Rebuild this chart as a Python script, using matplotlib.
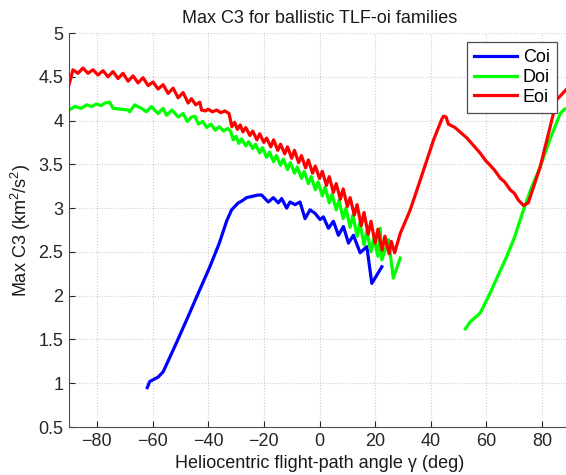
import matplotlib
matplotlib.use('Agg')
import matplotlib.pyplot as plt
import numpy as np

plt.rcParams['font.family'] = ['Liberation Sans', 'DejaVu Sans']
plt.rcParams['mathtext.default'] = 'regular'

# Coi family (blue)
coi_x = [-61.9, -61.0, -58.0, -56.2, -52.0, -47.8, -43.0, -39.4, -36.0, -33.4, -31.6, -29.2,
         -28.0, -26.2, -22.0, -20.8, -19.0, -18.4, -16.6, -14.8, -13.6, -11.8, -10.6, -8.8,
         -7.0, -5.2, -3.4, -1.6, 0.2, 1.4, 3.2, 5.0, 6.8, 8.6, 10.4, 12.2, 14.6, 17.0,
         18.8, 22.4]
coi_y = [0.95, 1.02, 1.07, 1.13, 1.42, 1.72, 2.07, 2.33, 2.60, 2.85, 2.98, 3.06,
         3.08, 3.12, 3.15, 3.15, 3.09, 3.07, 3.12, 3.06, 3.11, 3.00, 3.07, 3.04,
         3.07, 2.88, 2.98, 2.94, 2.87, 2.90, 2.77, 2.85, 2.69, 2.79, 2.60, 2.69, 2.49, 2.56,
         2.14, 2.33]

# Doi family (green), two branches
doi_x1 = [-90.0, -88.0, -85.5, -83.7, -81.9, -80.1, -78.5, -77.2, -75.4, -74.2, -68.8, -68.2,
          -66.4, -64.0, -62.2, -60.4, -58.0, -56.2, -55.0, -53.0, -50.8, -49.0, -47.5, -46.0,
          -44.8, -43.5, -42.0, -40.5, -39.0, -37.5, -36.0, -34.5, -33.0, -32.0, -31.0, -30.0,
          -29.0, -28.0, -26.5, -25.5, -24.0, -23.0, -21.5, -20.5, -19.0, -18.0, -16.5, -15.5,
          -14.0, -13.0, -11.5, -10.5, -9.0, -8.0, -6.5, -5.5, -4.0, -3.0, -1.5, -0.5,
          1.0, 2.0, 3.5, 4.5, 6.0, 7.0, 8.5, 9.5, 11.0, 12.0, 13.5, 14.5,
          16.0, 17.0, 18.5, 19.5, 21.0, 21.8, 22.4, 24.8, 26.5, 29.0]
doi_y1 = [4.12, 4.16, 4.14, 4.18, 4.16, 4.19, 4.17, 4.20, 4.21, 4.14, 4.12, 4.10,
          4.18, 4.14, 4.10, 4.16, 4.08, 4.14, 4.06, 4.12, 4.04, 4.08, 3.99, 4.04,
          4.05, 3.96, 3.99, 3.92, 3.96, 3.89, 3.93, 3.88, 3.91, 3.88, 3.78, 3.82,
          3.74, 3.79, 3.71, 3.76, 3.68, 3.73, 3.63, 3.69, 3.58, 3.64, 3.53, 3.60,
          3.49, 3.56, 3.44, 3.52, 3.40, 3.47, 3.34, 3.42, 3.28, 3.36, 3.21, 3.30,
          3.14, 3.24, 3.06, 3.16, 2.98, 3.09, 2.88, 3.00, 2.78, 2.92, 2.68, 2.83,
          2.58, 2.74, 2.50, 2.66, 2.45, 2.77, 2.41, 2.64, 2.20, 2.43]
doi_x2 = [52.4, 54.1, 57.7, 59.0, 61.3, 64.0, 67.3, 70.0, 73.3, 76.0, 79.3, 83.0, 86.5, 88.0, 90.0]
doi_y2 = [1.62, 1.70, 1.80, 1.88, 2.03, 2.22, 2.45, 2.66, 2.98, 3.22, 3.47, 3.80, 4.08, 4.13, 4.15]

# Eoi family (red)
eoi_x = [-90.0, -88.6, -86.8, -85.0, -83.2, -81.4, -79.6, -77.8, -76.0, -74.2, -72.4, -70.6,
         -68.8, -67.0, -65.2, -63.4, -61.6, -59.8, -58.0, -56.2, -54.4, -52.6, -50.8, -49.0,
         -47.2, -46.0, -44.5, -43.0, -42.4, -41.0, -40.0, -38.5, -37.0, -35.5, -34.0, -32.5,
         -31.5, -30.5, -29.5, -28.5, -27.5, -26.5, -25.0, -24.0, -22.5, -21.5, -20.0, -19.0,
         -17.5, -16.5, -15.0, -14.0, -12.5, -11.5, -10.0, -9.0, -7.5, -6.5, -5.0, -4.0,
         -2.5, -1.5, 0.0, 1.0, 2.5, 3.5, 5.0, 6.0, 7.5, 8.5, 10.0, 11.0,
         12.5, 13.5, 15.0, 16.0, 17.5, 18.5, 20.0, 21.0, 22.5, 23.5, 25.0, 25.8,
         27.0, 29.0, 32.6, 36.2, 41.0, 44.0, 44.6, 45.5, 46.3, 48.7, 53.0, 57.7,
         59.5, 60.7, 63.0, 65.0, 66.5, 68.5, 70.0, 71.5, 73.3, 75.0, 79.3, 85.3, 90.0]
eoi_y = [4.41, 4.58, 4.54, 4.60, 4.54, 4.58, 4.52, 4.57, 4.50, 4.56, 4.48, 4.54,
         4.45, 4.51, 4.43, 4.49, 4.40, 4.44, 4.36, 4.41, 4.31, 4.37, 4.26, 4.32,
         4.20, 4.25, 4.18, 4.21, 4.12, 4.11, 4.13, 4.10, 4.12, 4.09, 4.11, 4.08,
         3.93, 3.98, 3.90, 3.95, 3.87, 3.92, 3.83, 3.88, 3.78, 3.85, 3.75, 3.80,
         3.70, 3.78, 3.66, 3.73, 3.62, 3.70, 3.57, 3.66, 3.52, 3.60, 3.46, 3.55,
         3.40, 3.48, 3.34, 3.42, 3.26, 3.36, 3.18, 3.28, 3.10, 3.22, 3.02, 3.12,
         2.92, 3.04, 2.80, 2.95, 2.70, 2.85, 2.60, 2.76, 2.52, 2.68, 2.48, 2.62,
         2.49, 2.71, 2.98, 3.32, 3.78, 4.02, 4.05, 4.04, 3.96, 3.92, 3.80, 3.63,
         3.55, 3.51, 3.43, 3.34, 3.30, 3.21, 3.17, 3.09, 3.03, 3.06, 3.47, 4.24, 4.40]

x_ticks = [-80, -60, -40, -20, 0, 20, 40, 60, 80]
y_ticks = [0.5, 1, 1.5, 2, 2.5, 3, 3.5, 4, 4.5, 5]

fig = plt.figure(figsize=(5.66, 4.75), dpi=100)
ax = fig.add_axes([0.122, 0.101, 0.885, 0.8295])

lw = 2.3
ax.plot(coi_x, coi_y, color=(0, 0, 1), lw=lw, label='Coi')
ax.plot(doi_x1, doi_y1, color=(0, 1, 0), lw=lw, label='Doi')
ax.plot(doi_x2, doi_y2, color=(0, 1, 0), lw=lw)
ax.plot(eoi_x, eoi_y, color=(1, 0, 0), lw=lw, label='Eoi')

ax.set_xlim(-90, 90)
ax.set_ylim(0.5, 5)
ax.set_xticks(x_ticks)
ax.set_yticks(y_ticks)
ax.set_yticklabels(['%g' % v for v in y_ticks])
ax.tick_params(direction='in', length=4, labelsize=13, colors='0.15', top=False, right=False, pad=4)
ax.grid(True, linestyle=':', color='0.8', linewidth=0.8)
for s in ['top', 'right']:
    ax.spines[s].set_visible(False)
for s in ['left', 'bottom']:
    ax.spines[s].set_color('0.3')

ax.set_title('Max C3 for ballistic TLF-oi families', fontsize=13, color='0.1', pad=7)
ax.set_xlabel('Heliocentric flight-path angle \u03b3 (deg)', fontsize=13, color='0.1', labelpad=4)
ax.set_ylabel('Max C3 (km$^2$/s$^2$)', fontsize=13, color='0.1', labelpad=4)

leg = ax.legend(loc='upper left', bbox_to_anchor=(0.794, 0.977), borderaxespad=0,
                fontsize=13, handlelength=2.4, fancybox=False, framealpha=1,
                edgecolor='0.3', borderpad=0.4, labelspacing=0.15, handletextpad=0.3)
leg.get_frame().set_linewidth(0.9)

fig.savefig('out.png', dpi=100)
